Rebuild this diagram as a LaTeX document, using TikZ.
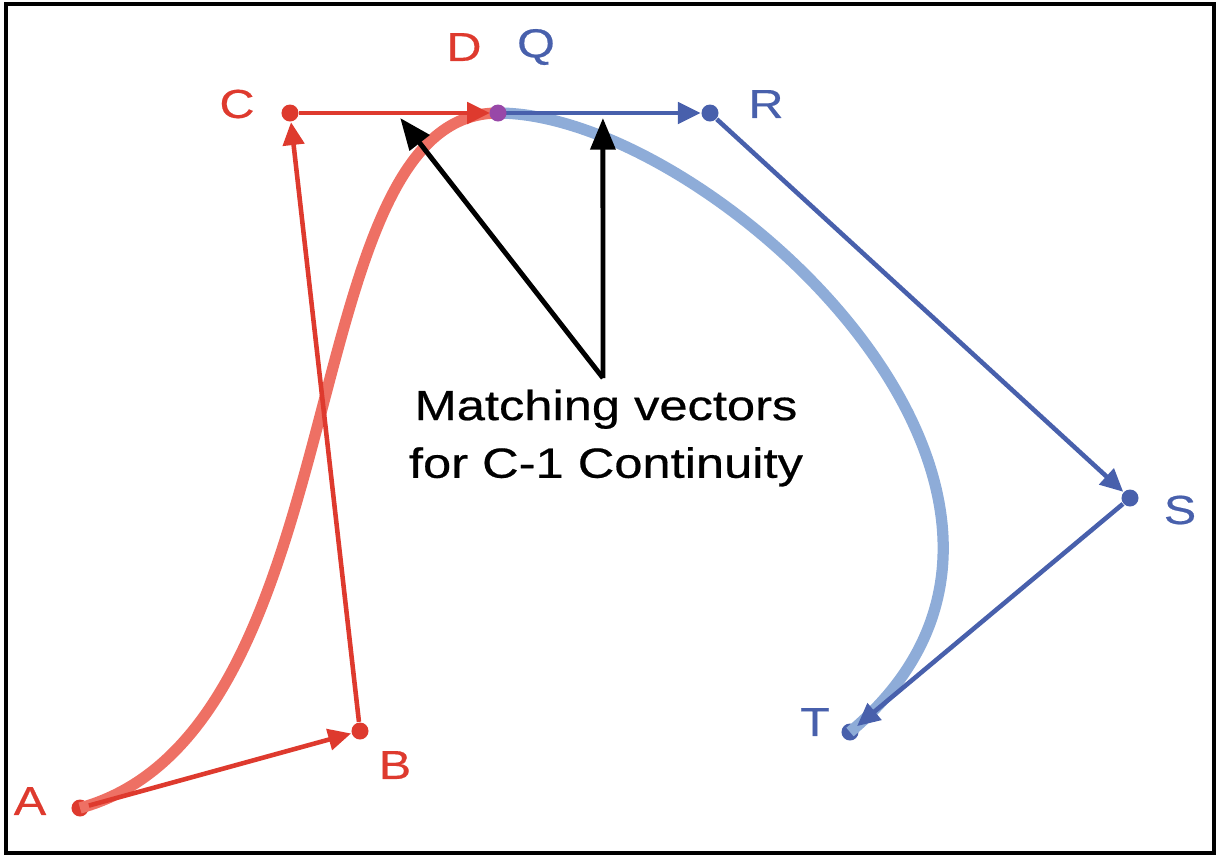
\documentclass[tikz,border=0pt]{standalone}
\usepackage{fontspec}
\setmainfont[FakeStretch=1.2, FakeBold=0.5]{Liberation Sans}
\usepackage{tikz}
\usetikzlibrary{arrows.meta, calc}
\usepackage{xcolor}
\definecolor{redvec}{RGB}{222,58,46}
\definecolor{redcurve}{RGB}{238,112,100}
\definecolor{bluevec}{RGB}{72,96,172}
\definecolor{bluecurve}{RGB}{142,172,216}
\definecolor{joinpt}{RGB}{152,72,168}

\begin{document}
\begin{tikzpicture}[x=0.01cm, y=-0.01cm,
        pt/.style={circle, fill, inner sep=0pt, minimum size=0.17cm},
        vec/.style={-{Triangle[length=6.5pt, width=6pt]}, line width=1.3pt},
        curve/.style={line width=3.2pt},
        pointer/.style={-{Triangle[length=9pt, width=7pt]}, line width=1.4pt, black},
        lbl/.style={font=\fontsize{11.5}{14}\selectfont}]
        \useasboundingbox (0,0) rectangle (1217,856);
        \draw[line width=1.2pt] (6,4) rectangle (1214,853);

        % Control points
        \node[pt, redvec] (A) at (80,808) {};
        \node[pt, redvec] (B) at (360,731) {};
        \node[pt, redvec] (C) at (290,113) {};
        \node[pt, bluevec] (R) at (710,113) {};
        \node[pt, bluevec] (S) at (1130,498) {};
        \node[pt, bluevec] (T) at (850,732) {};
        \coordinate (D) at (498,113);

        % Curves
        \draw[curve, redcurve] (A.center) .. controls (B.center) and (C.center) .. (D);
        \draw[curve, bluecurve] (D) .. controls (R.center) and (S.center) .. (T.center);

        % Vectors
        \draw[vec, redvec] (A) -- (B);
        \draw[vec, redvec] (B) -- (C);
        \draw[vec, redvec] (C) -- ($(D)+(-8,0)$);
        \draw[vec, bluevec] (D) -- (R);
        \draw[vec, bluevec] (R) -- (S);
        \draw[vec, bluevec] (S) -- (T);
        \node[pt, joinpt] (Dpt) at (D) {};

        % Labels
        \node[lbl, redvec] (labA) at (30,801) {A};
        \node[lbl, redvec] (labB) at (395,765) {B};
        \node[lbl, redvec] (labC) at (237,104) {C};
        \node[lbl, redvec] (labD) at (464,47) {D};
        \node[lbl, bluevec] (labQ) at (536,47) {Q};
        \node[lbl, bluevec] (labR) at (766,104) {R};
        \node[lbl, bluevec] (labS) at (1180,510) {S};
        \node[lbl, bluevec] (labT) at (815,722) {T};

        % Note
        \node[align=center, font=\fontsize{12}{16.4}\selectfont] (note) at (606,438)
            {Matching vectors\\for C-1 Continuity};
        \coordinate (fork) at (603,378);
        \coordinate (tipC) at ($(C)!0.53!(D)+(0,5)$);
        \coordinate (tipR) at ($(D)!0.495!(R)+(0,5)$);
        \draw[pointer] (fork) -- (tipC);
        \draw[pointer] (fork) -- (tipR);
    \end{tikzpicture}
\end{document}
